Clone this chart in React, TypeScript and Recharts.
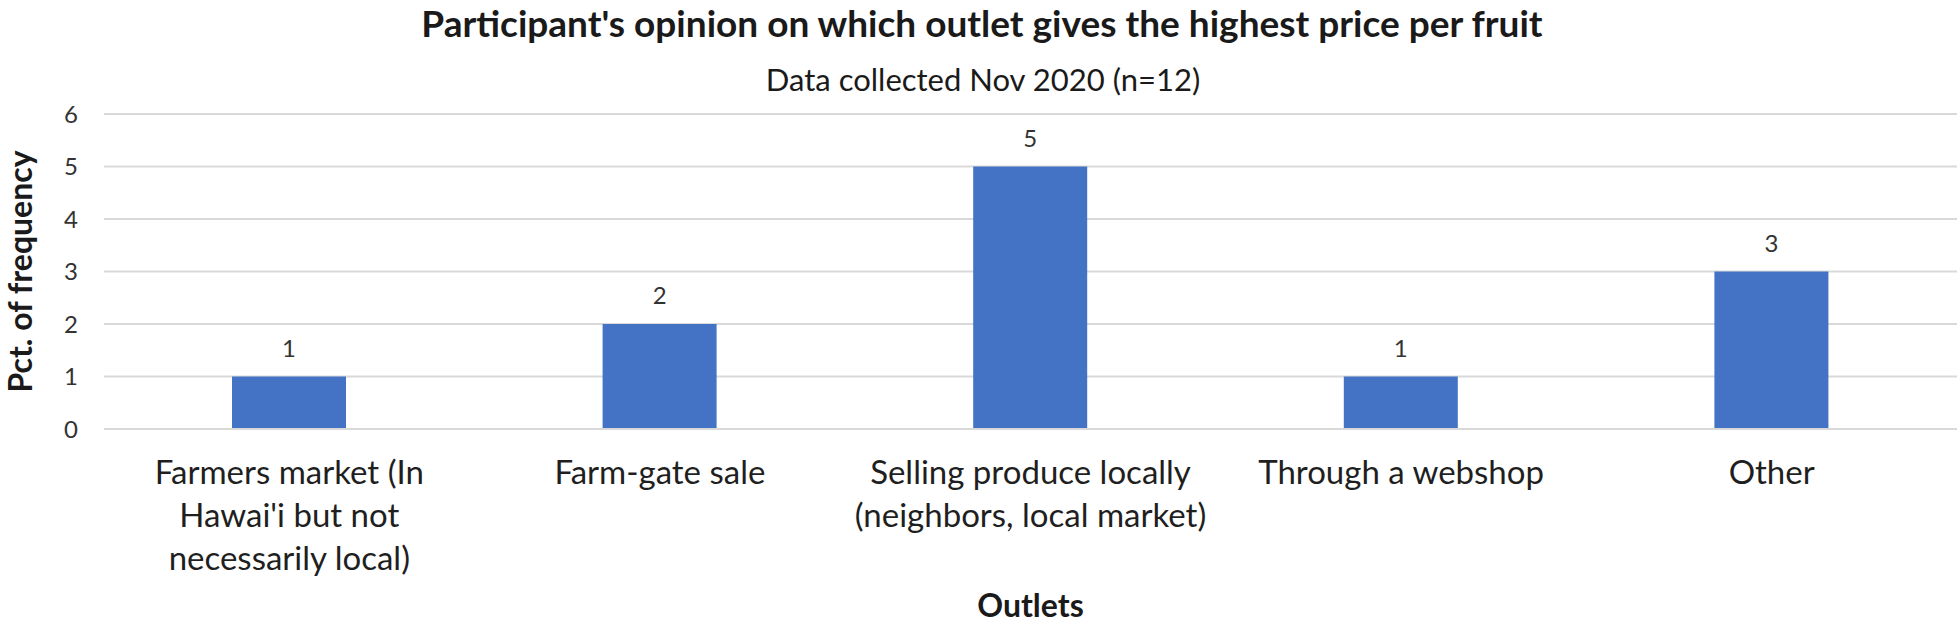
import React from 'react';
import { Bar, BarChart, CartesianGrid, LabelList, XAxis, YAxis } from 'recharts';

const categories = [
  "Farmers market (In Hawai'i but not necessarily local)",
  'Farm-gate sale',
  'Selling produce locally (neighbors, local market)',
  'Through a webshop',
  'Other',
];
// how Excel wrapped the category names
const categoryLines = [
  ['Farmers market (In', "Hawai'i but not", 'necessarily local)'],
  ['Farm-gate sale'],
  ['Selling produce locally', '(neighbors, local market)'],
  ['Through a webshop'],
  ['Other'],
];
const frequency = [1, 2, 5, 1, 3];
const yTicks = [0, 1, 2, 3, 4, 5, 6];

const data = categories.map((name, i) => ({ name, value: frequency[i] }));

const FONT = 'Lato, "Open Sans", sans-serif';
const GRID = '#d9d9d9';

const OutletTick = (props: any) => {
  const { x, y, payload } = props;
  const lines = categoryLines[payload.index] ?? [payload.value];
  return (
    <g>
      {lines.map((line, i) => (
        <text
          key={i}
          x={x}
          y={y + 55 + i * 43}
          textAnchor="middle"
          fill="#1f1f1f"
          fontSize={33}
          fontFamily={FONT}
        >
          {line}
        </text>
      ))}
    </g>
  );
};

const App: React.FC = () => {
  return (
    <div style={{ position: 'absolute', left: 0, top: 0, width: 1960, height: 624, background: '#fff' }}>
      <svg
        width={1960}
        height={110}
        style={{ position: 'absolute', left: 0, top: 0, pointerEvents: 'none' }}
      >
        <text x={982} y={37} textAnchor="middle" fontFamily={FONT} fontWeight={700} fontSize={37} fill="#1a1a1a">
          Participant's opinion on which outlet gives the highest price per fruit
        </text>
        <text x={983} y={91} textAnchor="middle" fontFamily={FONT} fontSize={31} fill="#1a1a1a">
          Data collected Nov 2020 (n=12)
        </text>
      </svg>
      <BarChart
        width={1960}
        height={624}
        data={data}
        margin={{ top: 114, right: 3, left: 0, bottom: 0 }}
      >
        <CartesianGrid vertical={false} stroke={GRID} strokeWidth={2} />
        <XAxis
          dataKey="name"
          height={195}
          interval={0}
          tickLine={false}
          tickSize={0}
          tickMargin={0}
          axisLine={{ stroke: GRID, strokeWidth: 2 }}
          tick={<OutletTick />}
          label={{
            content: ({ viewBox }: any) => (
              <text
                x={viewBox.x + viewBox.width / 2}
                y={viewBox.y + 188}
                textAnchor="middle"
                fontFamily={FONT}
                fontWeight={700}
                fontSize={32}
                fill="#1a1a1a"
              >
                Outlets
              </text>
            ),
          }}
        />
        <YAxis
          width={104}
          domain={[0, 6]}
          ticks={yTicks}
          interval={0}
          axisLine={false}
          tickLine={false}
          tickSize={0}
          tickMargin={26}
          tick={{ fill: '#333', fontSize: 24, fontFamily: FONT }}
          label={{
            content: ({ viewBox }: any) => (
              <text
                x={32}
                y={viewBox.y + viewBox.height / 2}
                transform={`rotate(-90, 32, ${viewBox.y + viewBox.height / 2})`}
                textAnchor="middle"
                fontFamily={FONT}
                fontWeight={700}
                fontSize={32}
                fill="#1a1a1a"
              >
                Pct. of frequency
              </text>
            ),
          }}
        />
        <Bar dataKey="value" fill="#4472C4" barSize={114} isAnimationActive={false}>
          <LabelList
            dataKey="value"
            position="top"
            offset={20}
            fill="#333"
            fontSize={24}
            fontFamily={FONT}
          />
        </Bar>
      </BarChart>
    </div>
  );
};

export default App;
